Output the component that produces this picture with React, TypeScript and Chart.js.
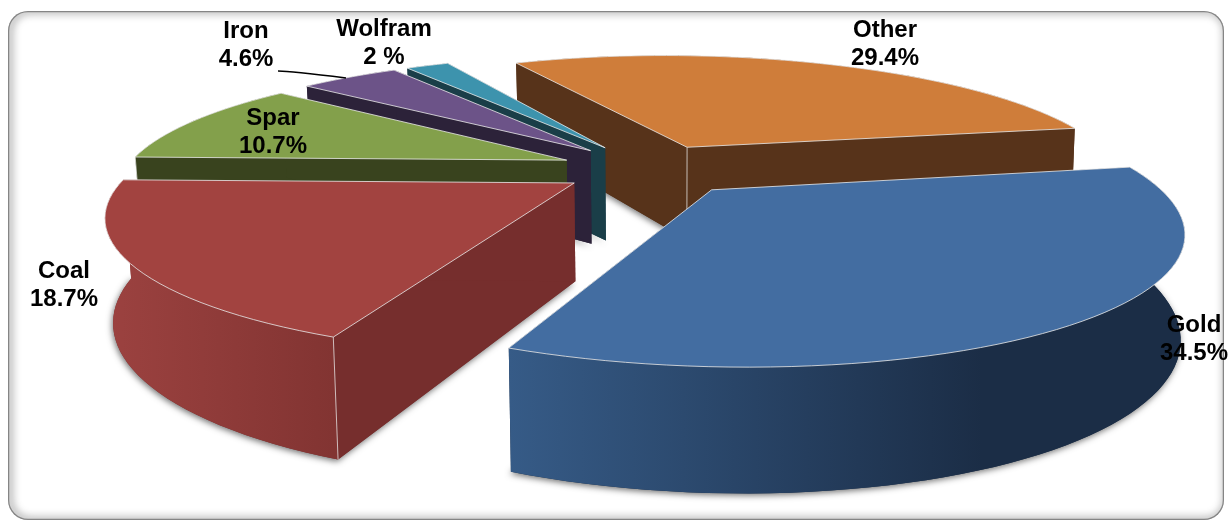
import React, { useEffect, useRef } from "react";
import { Chart, registerables } from "chart.js";

Chart.register(...registerables);

const categories = ["Other", "Gold", "Coal", "Spar", "Iron", "Wolfram"];
const shares = [29.4, 34.5, 18.7, 10.7, 4.6, 2];
const valueLabels = ["29.4%", "34.5%", "18.7%", "10.7%", "4.6%", "2 %"];
const topColors = ["#CF7D3A", "#436DA1", "#A24340", "#83A04B", "#6C5388", "#3D93AD"];
const wallLeft = ["#57331A", "#365B87", "#9C4240", "#39431E", "#2C2239", "#1A3E48"];
const wallRight = ["#57331A", "#1B2D46", "#823432", "#39431E", "#2C2239", "#1A3E48"];
const faceColors = ["#57331A", "#1B2D46", "#762E2D", "#39431E", "#2C2239", "#1A3E48"];
const labelX = [885, 1194, 64, 273, 246, 384];
const labelY = [30, 325, 271, 118, 31, 29];
const drawOrder = [0, 5, 4, 3, 2, 1];

const CX = 651, CY = 169, SX = 437, SY = 123, PERSP = 0.24, ROLL = 4.5;
const DEPTH = 96, DEPTH_PERSP = 0.207, CONVERGE_LEFT = 0.985, CONVERGE_RIGHT = 0.992;

function proj(u: number, v: number, bottom: boolean) {
  const w = 1 - PERSP * v;
  const c = bottom ? (u < 0 ? CONVERGE_LEFT : CONVERGE_RIGHT) : 1;
  return {
    x: CX + (SX * u / w) * c,
    y: CY + (SY * v + ROLL * u) / w + (bottom ? DEPTH / (1 - DEPTH_PERSP * v) : 0),
  };
}

const pie3d = {
  id: "pie3d",
  beforeDatasetsDraw(chart: any) {
    const ctx: CanvasRenderingContext2D = chart.ctx;
    const arcs = chart.getDatasetMeta(0).data;
    for (const i of drawOrder) {
      const a = arcs[i];
      const R = a.outerRadius;
      const mid = (a.startAngle + a.endAngle) / 2;
      const ox = (Math.cos(mid) * a.options.offset) / R;
      const oy = (Math.sin(mid) * a.options.offset) / R;
      const n = Math.max(4, Math.ceil(((a.endAngle - a.startAngle) * 180) / Math.PI / 2));
      const rim: { u: number; v: number }[] = [];
      for (let k = 0; k <= n; k++) {
        const t = a.startAngle + ((a.endAngle - a.startAngle) * k) / n;
        rim.push({ u: ox + Math.cos(t), v: oy + Math.sin(t) });
      }
      const apex = { u: ox, v: oy };
      const startFaceVisible = Math.sin(a.startAngle - Math.PI / 2) > 0;
      const endFaceVisible = Math.sin(a.endAngle + Math.PI / 2) > 0;

      const vertical = (p: { u: number; v: number }) => {
        const t = proj(p.u, p.v, false), b = proj(p.u, p.v, true);
        ctx.strokeStyle = "rgba(235,235,235,0.75)";
        ctx.lineWidth = 1;
        ctx.beginPath();
        ctx.moveTo(t.x, t.y);
        ctx.lineTo(b.x, b.y);
        ctx.stroke();
      };
      const quad = (p: { u: number; v: number }, q: { u: number; v: number }, fill: string | CanvasGradient) => {
        const a1 = proj(p.u, p.v, false), a2 = proj(q.u, q.v, false), b2 = proj(q.u, q.v, true), b1 = proj(p.u, p.v, true);
        ctx.beginPath();
        ctx.moveTo(a1.x, a1.y);
        ctx.lineTo(a2.x, a2.y);
        ctx.lineTo(b2.x, b2.y);
        ctx.lineTo(b1.x, b1.y);
        ctx.closePath();
        ctx.fillStyle = fill;
        ctx.fill();
      };

      ctx.save();
      ctx.shadowColor = "rgba(0,0,0,0.55)";
      ctx.shadowBlur = 6;
      ctx.shadowOffsetX = -1;
      ctx.shadowOffsetY = 2;
      ctx.beginPath();
      const outline = [apex, ...rim];
      outline.forEach((p, k) => {
        const q = proj(p.u, p.v, true);
        k ? ctx.lineTo(q.x, q.y) : ctx.moveTo(q.x, q.y);
      });
      ctx.closePath();
      ctx.fillStyle = faceColors[i];
      ctx.fill();
      ctx.restore();

      quad(apex, rim[0], faceColors[i]);
      quad(apex, rim[n], faceColors[i]);

      const xs = rim.map((p) => proj(p.u, p.v, false).x);
      const minX = Math.min(...xs), maxX = Math.max(...xs);
      const g = ctx.createLinearGradient(minX, 0, minX + (maxX - minX) * (i === 1 ? 0.7 : 1), 0);
      g.addColorStop(0, wallLeft[i]);
      g.addColorStop(1, wallRight[i]);
      ctx.beginPath();
      rim.forEach((p, k) => {
        const q = proj(p.u, p.v, false);
        k ? ctx.lineTo(q.x, q.y) : ctx.moveTo(q.x, q.y);
      });
      for (let k = n; k >= 0; k--) {
        const q = proj(rim[k].u, rim[k].v, true);
        ctx.lineTo(q.x, q.y);
      }
      ctx.closePath();
      ctx.fillStyle = g;
      ctx.fill();

      if (startFaceVisible && endFaceVisible) vertical(apex);
      if (startFaceVisible && Math.sin(a.startAngle) > 0) vertical(rim[0]);
      if (endFaceVisible && Math.sin(a.endAngle) > 0) vertical(rim[n]);

      ctx.beginPath();
      outline.forEach((p, k) => {
        const q = proj(p.u, p.v, false);
        k ? ctx.lineTo(q.x, q.y) : ctx.moveTo(q.x, q.y);
      });
      ctx.closePath();
      ctx.fillStyle = topColors[i];
      ctx.fill();
      ctx.strokeStyle = "rgba(235,235,235,0.8)";
      ctx.lineWidth = 1;
      ctx.stroke();
    }
    return false;
  },
};

const frame = {
  id: "frame",
  beforeDraw(chart: any) {
    const ctx: CanvasRenderingContext2D = chart.ctx;
    ctx.save();
    ctx.fillStyle = "#fff";
    ctx.fillRect(0, 0, 1230, 523);
    ctx.beginPath();
    ctx.roundRect(8, 11, 1216, 509, 20);
    ctx.clip();
    ctx.shadowColor = "rgba(0,0,0,0.75)";
    ctx.shadowBlur = 8;
    ctx.shadowOffsetX = 2;
    ctx.strokeStyle = "#858585";
    ctx.lineWidth = 2.5;
    ctx.stroke();
    ctx.restore();
  },
};

const texts = {
  id: "texts",
  afterDraw(chart: any) {
    const ctx: CanvasRenderingContext2D = chart.ctx;
    ctx.save();
    ctx.strokeStyle = "#000";
    ctx.lineWidth = 1.5;
    ctx.beginPath();
    ctx.moveTo(278, 71);
    ctx.quadraticCurveTo(290, 71, 346, 78);
    ctx.stroke();
    ctx.font = "bold 24px 'Liberation Sans', Arial, sans-serif";
    ctx.fillStyle = "#000";
    ctx.textAlign = "center";
    ctx.textBaseline = "middle";
    categories.forEach((c, i) => {
      ctx.fillText(c, labelX[i], labelY[i]);
      ctx.fillText(valueLabels[i], labelX[i], labelY[i] + 28.5);
    });
    ctx.restore();
  },
};

export default function App() {
  const ref = useRef<HTMLCanvasElement>(null);
  useEffect(() => {
    const chart = new Chart(ref.current!, {
      type: "pie",
      data: {
        labels: categories,
        datasets: [{ data: shares, backgroundColor: topColors, offset: 49, borderWidth: 0 }],
      },
      options: {
        responsive: false,
        animation: false,
        rotation: -28.3,
        plugins: { legend: { display: false }, tooltip: { enabled: false } },
      },
      plugins: [frame, pie3d, texts],
    } as any);
    return () => chart.destroy();
  }, []);
  return (
    <div style={{ position: "fixed", left: 0, top: 0, width: 1230, height: 523 }}>
      <canvas ref={ref} width={1230} height={523} style={{ display: "block" }} />
    </div>
  );
}
